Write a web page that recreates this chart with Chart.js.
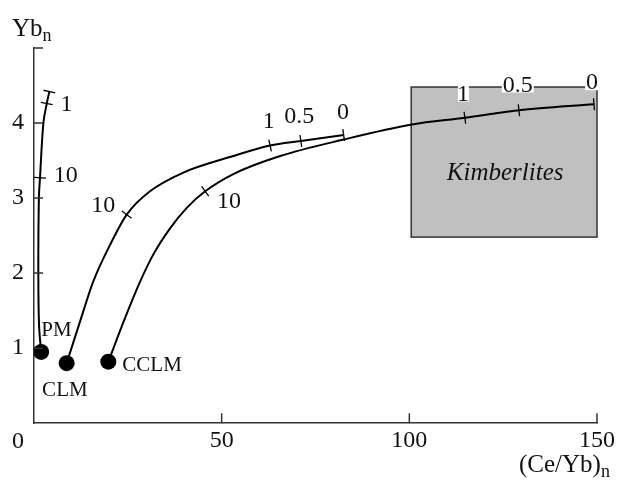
<!DOCTYPE html>
<html>
<head>
<meta charset="utf-8">
<script src="https://cdn.jsdelivr.net/npm/chart.js@4/dist/chart.umd.min.js"></script>
<style>
  html, body { margin: 0; padding: 0; background: #fff; }
  #wrap { width: 618px; height: 481px; position: relative; }
</style>
</head>
<body>
<div id="wrap"><canvas id="chart"></canvas></div>
<script>
// melting paths, Yb_n against (Ce/Yb)_n
var pmX = [1.9, 1.35, 1.15, 1.3, 1.6, 2.5, 3.4, 4.1];
var pmY = [0.95, 1.3, 2.0, 3.0, 3.27, 4.0, 4.26, 4.42];
var pmTicks = [0, 0, 0, 0, 1, 0, 1, 1];

var clmX = [8.7, 12.3, 15.8, 20.3, 24.7, 30.9, 39.8, 53.1, 62.9, 71.1, 82.5];
var clmY = [0.8, 1.36, 1.89, 2.38, 2.78, 3.09, 3.34, 3.56, 3.70, 3.76, 3.84];
var clmTicks = [0, 0, 0, 0, 1, 0, 0, 0, 1, 1, 1];

var cclmX = [19.8, 24.4, 28.3, 31.8, 36.3, 40.7, 45.6, 53.1, 65.6, 82.5, 100.7, 114.8, 129.2, 149.2];
var cclmY = [0.82, 1.42, 1.89, 2.25, 2.60, 2.87, 3.09, 3.32, 3.56, 3.78, 3.98, 4.07, 4.17, 4.25];
var cclmTicks = [0, 0, 0, 0, 0, 0, 1, 0, 0, 0, 0, 1, 1, 1];

// sources
var srcNames = ['PM', 'CLM', 'CCLM'];
var srcX = [1.9, 8.7, 19.8];
var srcY = [0.95, 0.8, 0.82];

// kimberlite field
var kimbX = [100.5, 150];
var kimbY = [2.48, 4.48];

// degree of melting (%) labels next to the ticks
var meltText = ['1', '10', '10', '1', '0.5', '0', '10', '1', '0.5', '0'];
var meltX = [8.8, 8.7, 18.7, 62.7, 70.7, 82.3, 52.2, 114.4, 128.9, 148.7];
var meltY = [4.26, 3.32, 2.91, 4.04, 4.10, 4.16, 2.97, 4.40, 4.52, 4.55];

// where the source names sit
var srcLabelX = [6.05, 8.27, 31.5];
var srcLabelY = [1.26, 0.46, 0.785];

var xTicks = [0, 50, 100, 150];
var yTicks = [0, 1, 2, 3, 4, 5];

var SERIF = '"Liberation Serif", "Times New Roman", serif';

function pts(xs, ys) {
  return xs.map(function (x, i) { return { x: x, y: ys[i] }; });
}

function curve(xs, ys, mono) {
  return {
    data: pts(xs, ys),
    showLine: true,
    borderColor: '#000',
    borderWidth: 2,
    tension: 0.35,
    cubicInterpolationMode: mono ? 'monotone' : 'default',
    pointRadius: 0,
    pointHoverRadius: 0
  };
}

// draws text centred on its glyph box
function glyphText(ctx, txt, cx, cy, bg) {
  var m = ctx.measureText(txt);
  var w = m.actualBoundingBoxLeft + m.actualBoundingBoxRight;
  var a = m.actualBoundingBoxAscent, d = m.actualBoundingBoxDescent;
  var left = cx - w / 2;
  var base = cy + (a - d) / 2;
  if (bg) {
    ctx.fillStyle = '#fff';
    ctx.fillRect(left - 1, base - a - 1, w + 2, a + d + 2);
  }
  ctx.fillStyle = '#111';
  ctx.fillText(txt, left + m.actualBoundingBoxLeft, base);
}

var kimbPlugin = {
  id: 'kimb',
  beforeDatasetsDraw: function (chart) {
    var ctx = chart.ctx, xs = chart.scales.x, ys = chart.scales.y;
    var l = xs.getPixelForValue(kimbX[0]), r = xs.getPixelForValue(kimbX[1]);
    var t = ys.getPixelForValue(kimbY[1]), b = ys.getPixelForValue(kimbY[0]);
    ctx.save();
    ctx.fillStyle = '#c0c0c0';
    ctx.fillRect(l, t, r - l, b - t);
    ctx.strokeStyle = '#333';
    ctx.lineWidth = 1.5;
    ctx.strokeRect(l, t, r - l, b - t);
    ctx.font = 'italic 25px ' + SERIF;
    glyphText(ctx, 'Kimberlites', xs.getPixelForValue(125.3), ys.getPixelForValue(3.35), false);
    ctx.restore();
  }
};

var marksPlugin = {
  id: 'marks',
  afterDatasetsDraw: function (chart) {
    var ctx = chart.ctx, xs = chart.scales.x, ys = chart.scales.y;
    var flags = [pmTicks, clmTicks, cclmTicks];
    ctx.save();
    ctx.strokeStyle = '#000';
    ctx.lineWidth = 1.3;
    flags.forEach(function (f, di) {
      var els = chart.getDatasetMeta(di).data;
      f.forEach(function (on, i) {
        if (!on) return;
        var p0 = els[Math.max(i - 1, 0)], p1 = els[Math.min(i + 1, els.length - 1)];
        var dx = p1.x - p0.x, dy = p1.y - p0.y, len = Math.hypot(dx, dy);
        var nx = -dy / len * 6, ny = dx / len * 6;
        ctx.beginPath();
        ctx.moveTo(els[i].x - nx, els[i].y - ny);
        ctx.lineTo(els[i].x + nx, els[i].y + ny);
        ctx.stroke();
      });
    });

    ctx.font = '24px ' + SERIF;
    meltText.forEach(function (t, i) {
      glyphText(ctx, t, xs.getPixelForValue(meltX[i]), ys.getPixelForValue(meltY[i]), true);
    });
    ctx.font = '21px ' + SERIF;
    srcNames.forEach(function (t, i) {
      glyphText(ctx, t, xs.getPixelForValue(srcLabelX[i]), ys.getPixelForValue(srcLabelY[i]), false);
    });
    ctx.restore();
  },
  afterDraw: function (chart) {
    var ctx = chart.ctx, xs = chart.scales.x, ys = chart.scales.y;
    var a = chart.chartArea;
    ctx.save();
    // inward axis ticks
    ctx.strokeStyle = '#333';
    ctx.lineWidth = 1.5;
    ctx.beginPath();
    yTicks.forEach(function (v) {
      if (v === 0) return;
      var py = ys.getPixelForValue(v);
      ctx.moveTo(a.left, py); ctx.lineTo(a.left + 9, py);
    });
    xTicks.forEach(function (v) {
      if (v === 0) return;
      var px = xs.getPixelForValue(v);
      ctx.moveTo(px, a.bottom); ctx.lineTo(px, a.bottom - 10);
    });
    ctx.stroke();

    // origin label sits left of the corner
    ctx.fillStyle = '#111';
    ctx.font = '24px ' + SERIF;
    ctx.textAlign = 'center';
    ctx.textBaseline = 'alphabetic';
    ctx.fillText('0', a.left - 16, a.bottom + 25);

    // axis titles
    ctx.textAlign = 'left';
    ctx.font = '25px ' + SERIF;
    ctx.fillText('Yb', 12, 36);
    var w = ctx.measureText('Yb').width;
    ctx.font = '18px ' + SERIF;
    ctx.fillText('n', 12 + w, 41);

    ctx.font = '25px ' + SERIF;
    ctx.fillText('(Ce/Yb)', 519, 472);
    w = ctx.measureText('(Ce/Yb)').width;
    ctx.font = '18px ' + SERIF;
    ctx.fillText('n', 519 + w, 477);
    ctx.restore();
  }
};

new Chart(document.getElementById('chart'), {
  type: 'scatter',
  data: {
    datasets: [
      curve(pmX, pmY, false),
      curve(clmX, clmY, true),
      curve(cclmX, cclmY, true),
      {
        data: pts(srcX, srcY),
        pointRadius: 8,
        pointHoverRadius: 8,
        backgroundColor: '#000',
        borderColor: '#000',
        borderWidth: 0
      }
    ]
  },
  options: {
    responsive: true,
    maintainAspectRatio: false,
    animation: false,
    events: [],
    layout: { padding: { left: 2, top: 48, right: 21, bottom: 23 } },
    plugins: { legend: { display: false }, tooltip: { enabled: false } },
    scales: {
      x: {
        type: 'linear',
        min: 0, max: 150,
        afterBuildTicks: function (s) { s.ticks = xTicks.map(function (v) { return { value: v }; }); },
        grid: { drawOnChartArea: false, drawTicks: false },
        border: { color: '#333', width: 1.5 },
        ticks: {
          padding: 3,
          color: '#111',
          font: { family: SERIF, size: 24 },
          maxRotation: 0,
          callback: function (v) { return v === 0 ? '' : String(v); }
        }
      },
      y: {
        type: 'linear',
        min: 0, max: 5,
        afterBuildTicks: function (s) { s.ticks = yTicks.map(function (v) { return { value: v }; }); },
        grid: { drawOnChartArea: false, drawTicks: false },
        border: { color: '#333', width: 1.5 },
        ticks: {
          padding: 10,
          color: '#111',
          font: { family: SERIF, size: 24 },
          callback: function (v) { return (v === 0 || v === 5) ? '' : String(v); }
        }
      }
    }
  },
  plugins: [kimbPlugin, marksPlugin]
});
</script>
</body>
</html>
